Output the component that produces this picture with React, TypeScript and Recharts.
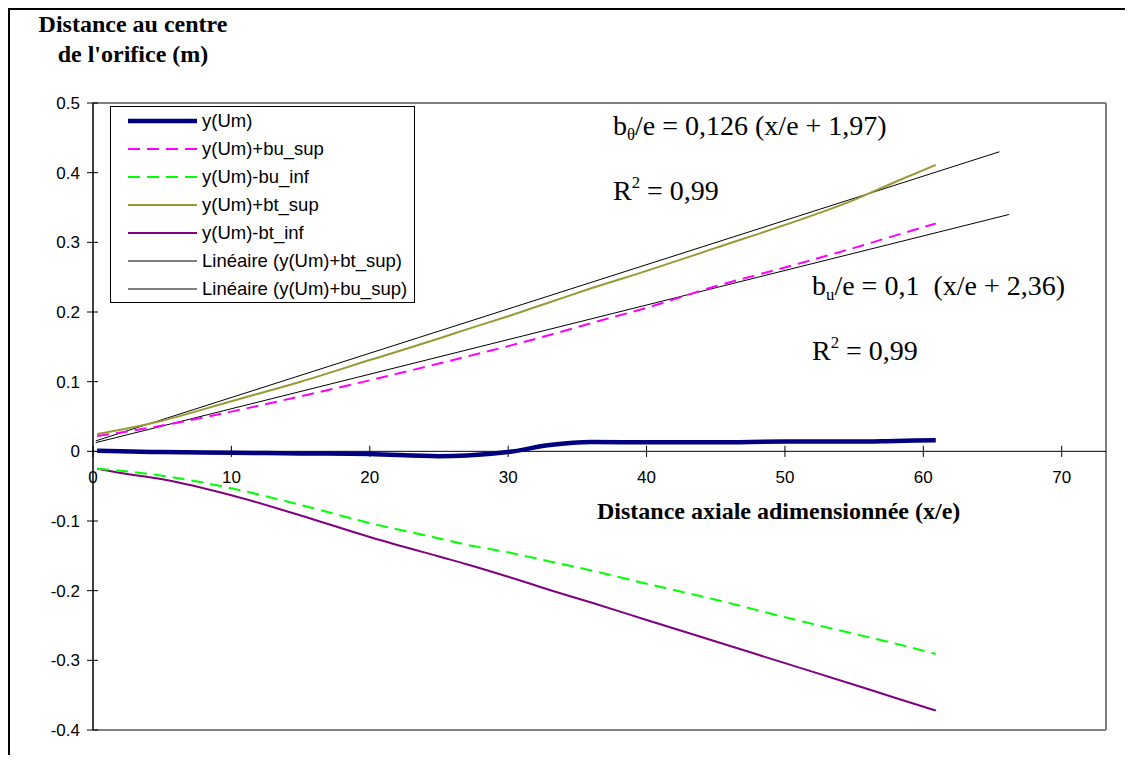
import * as React from "react";
import {
  LineChart,
  Line,
  XAxis,
  YAxis,
  ReferenceLine,
  ReferenceDot
} from "recharts";

// x/e sample positions shared by the five measured curves
const xs = [0.3, 2, 5, 10, 15, 20, 25, 27, 30, 33, 36, 40, 45, 50, 55, 58, 60.9];

// measured curves (m)
const yUm = [0.001, 0.0, -0.001, -0.002, -0.003, -0.004, -0.007, -0.006, -0.001, 0.009, 0.0135, 0.013, 0.013, 0.014, 0.014, 0.015, 0.016];
const yBuSup = [0.022, 0.027, 0.037, 0.057, 0.079, 0.102, 0.126, 0.136, 0.151, 0.167, 0.184, 0.206, 0.237, 0.264, 0.292, 0.31, 0.327];
const yBuInf = [-0.025, -0.028, -0.035, -0.053, -0.077, -0.103, -0.125, -0.134, -0.145, -0.158, -0.171, -0.19, -0.213, -0.238, -0.262, -0.276, -0.291];
const yBtSup = [0.025, 0.031, 0.044, 0.072, 0.1, 0.131, 0.162, 0.175, 0.194, 0.214, 0.234, 0.259, 0.292, 0.325, 0.361, 0.387, 0.411];
const yBtInf = [-0.025, -0.031, -0.04, -0.063, -0.092, -0.123, -0.151, -0.162, -0.18, -0.199, -0.217, -0.242, -0.273, -0.304, -0.335, -0.354, -0.372];

// linear trendlines (end points)
const trendBtX = [0.2, 65.5];
const trendBtY = [0.015, 0.43];
const trendBuX = [0.2, 66.2];
const trendBuY = [0.0125, 0.34];

const xTicks = [0, 10, 20, 30, 40, 50, 60, 70];
const yTicks = [-0.4, -0.3, -0.2, -0.1, 0, 0.1, 0.2, 0.3, 0.4, 0.5];
const X_MAX = 73.2;

const SANS = "'Liberation Sans', Arial, sans-serif";
const SERIF = "'Liberation Serif', 'Times New Roman', serif";

const mainData = xs.map((x, i) => ({
  x,
  um: yUm[i],
  buSup: yBuSup[i],
  buInf: yBuInf[i],
  btSup: yBtSup[i],
  btInf: yBtInf[i]
}));
const trendBt = trendBtX.map((x, i) => ({ x, v: trendBtY[i] }));
const trendBu = trendBuX.map((x, i) => ({ x, v: trendBuY[i] }));

const legendItems = [
  { label: "y(Um)", color: "#000080", width: 4.5, dash: undefined },
  { label: "y(Um)+bu_sup", color: "#FF00FF", width: 2, dash: "12 7" },
  { label: "y(Um)-bu_inf", color: "#00FF00", width: 2, dash: "12 7" },
  { label: "y(Um)+bt_sup", color: "#999933", width: 2, dash: undefined },
  { label: "y(Um)-bt_inf", color: "#800080", width: 2, dash: undefined },
  { label: "Linéaire (y(Um)+bt_sup)", color: "#000000", width: 1, dash: undefined },
  { label: "Linéaire (y(Um)+bu_sup)", color: "#000000", width: 1, dash: undefined }
];

const YTick = (props: any) => {
  const { x, y, payload } = props;
  const v = payload.value;
  const txt = Math.abs(v) < 1e-9 ? "0" : String(v);
  return (
    <g>
      <line x1={x - 6} x2={x + 5} y1={y} y2={y} stroke="#000" strokeWidth={1} />
      <text x={x - 13} y={y} dy="0.355em" textAnchor="end" fontSize={17} fontFamily={SANS} fill="#000">
        {txt}
      </text>
    </g>
  );
};

const Legend = () => (
  <div
    style={{
      position: "absolute",
      left: 102,
      top: 98,
      width: 305,
      height: 197,
      boxSizing: "border-box",
      border: "1px solid #000",
      background: "#fff",
      fontFamily: SANS,
      fontSize: 18.5
    }}
  >
    {legendItems.map((it) => (
      <div key={it.label} style={{ height: 28, display: "flex", alignItems: "center" }}>
        <svg width={69} height={8} style={{ marginLeft: 17, marginRight: 5 }}>
          <line x1={0} x2={69} y1={4} y2={4} stroke={it.color} strokeWidth={it.width} strokeDasharray={it.dash} />
        </svg>
        <span style={{ whiteSpace: "nowrap" }}>{it.label}</span>
      </div>
    ))}
  </div>
);

const annot: React.CSSProperties = {
  position: "absolute",
  fontFamily: SERIF,
  fontSize: 28,
  lineHeight: "30px",
  whiteSpace: "pre",
  color: "#000"
};
const subStyle: React.CSSProperties = { fontSize: "0.6em", verticalAlign: "-0.3em", lineHeight: 0 };
const supStyle: React.CSSProperties = { fontSize: "0.6em", verticalAlign: "0.7em", lineHeight: 0 };

export default function App() {
  return (
    <div style={{ position: "relative", width: 1117, height: 747, overflow: "hidden", background: "#fff" }}>
      <div
        style={{
          position: "absolute",
          left: 0,
          top: 0,
          width: 1117,
          height: 747,
          boxSizing: "border-box",
          borderLeft: "2px solid #000",
          borderTop: "2px solid #000"
        }}
      />
      <div style={{ position: "absolute", left: 0, top: 0 }}>
        <LineChart width={1117} height={747} data={mainData} margin={{ top: 95, right: 19, bottom: 25, left: 25 }}>
          <XAxis type="number" dataKey="x" domain={[0, X_MAX]} ticks={xTicks} hide allowDataOverflow />
          <YAxis
            type="number"
            domain={[-0.4, 0.5]}
            ticks={yTicks}
            width={60}
            interval={0}
            tickSize={0}
            tickMargin={0}
            tickLine={false}
            axisLine={{ stroke: "#000", strokeWidth: 1.5 }}
            tick={<YTick />}
            allowDataOverflow
          />
          {/* plot area frame */}
          <ReferenceLine y={0.5} stroke="#808080" strokeWidth={2} />
          <ReferenceLine y={-0.4} stroke="#808080" strokeWidth={2} />
          <ReferenceLine x={X_MAX} stroke="#808080" strokeWidth={2} />
          {/* x axis crossing at y = 0 */}
          <ReferenceLine y={0} stroke="#000" strokeWidth={1} />
          {xTicks.map((t) => (
            <ReferenceLine
              key={"t" + t}
              segment={[
                { x: t, y: -0.008 },
                { x: t, y: 0.008 }
              ]}
              stroke="#000"
              strokeWidth={1}
            />
          ))}
          {xTicks.map((t) => (
            <ReferenceDot
              key={"l" + t}
              x={t}
              y={0}
              r={0}
              fill="none"
              stroke="none"
              label={{ value: String(t), position: "bottom", offset: 20, fill: "#000", fontSize: 17, fontFamily: SANS }}
            />
          ))}
          <Line data={trendBt} dataKey="v" type="linear" stroke="#000" strokeWidth={1} dot={false} isAnimationActive={false} />
          <Line data={trendBu} dataKey="v" type="linear" stroke="#000" strokeWidth={1} dot={false} isAnimationActive={false} />
          <Line dataKey="btInf" type="monotone" stroke="#800080" strokeWidth={2} dot={false} isAnimationActive={false} />
          <Line dataKey="buInf" type="monotone" stroke="#00FF00" strokeWidth={2} strokeDasharray="12 7" dot={false} isAnimationActive={false} />
          <Line dataKey="btSup" type="monotone" stroke="#999933" strokeWidth={2} dot={false} isAnimationActive={false} />
          <Line dataKey="buSup" type="monotone" stroke="#FF00FF" strokeWidth={2} strokeDasharray="12 7" dot={false} isAnimationActive={false} />
          <Line dataKey="um" type="monotone" stroke="#000080" strokeWidth={4.5} dot={false} isAnimationActive={false} />
        </LineChart>
      </div>

      <Legend />

      {/* axis titles */}
      <div
        style={{
          position: "absolute",
          left: 5,
          top: 1,
          width: 240,
          textAlign: "center",
          fontFamily: SERIF,
          fontWeight: "bold",
          fontSize: 24,
          lineHeight: "30px"
        }}
      >
        Distance au centre
        <br />
        de l'orifice (m)
      </div>
      <div
        style={{
          position: "absolute",
          left: 589,
          top: 488,
          fontFamily: SERIF,
          fontWeight: "bold",
          fontSize: 24,
          lineHeight: "30px",
          whiteSpace: "nowrap"
        }}
      >
        Distance axiale adimensionnée (x/e)
      </div>

      {/* trendline equations */}
      <div style={{ ...annot, left: 605, top: 103 }}>
        b<span style={subStyle}>θ</span>/e = 0,126 (x/e + 1,97)
      </div>
      <div style={{ ...annot, left: 605, top: 168 }}>
        R<span style={supStyle}>2</span> = 0,99
      </div>
      <div style={{ ...annot, left: 804, top: 263 }}>
        b<span style={subStyle}>u</span>/e = 0,1  (x/e + 2,36)
      </div>
      <div style={{ ...annot, left: 804, top: 328 }}>
        R<span style={supStyle}>2</span> = 0,99
      </div>
    </div>
  );
}
